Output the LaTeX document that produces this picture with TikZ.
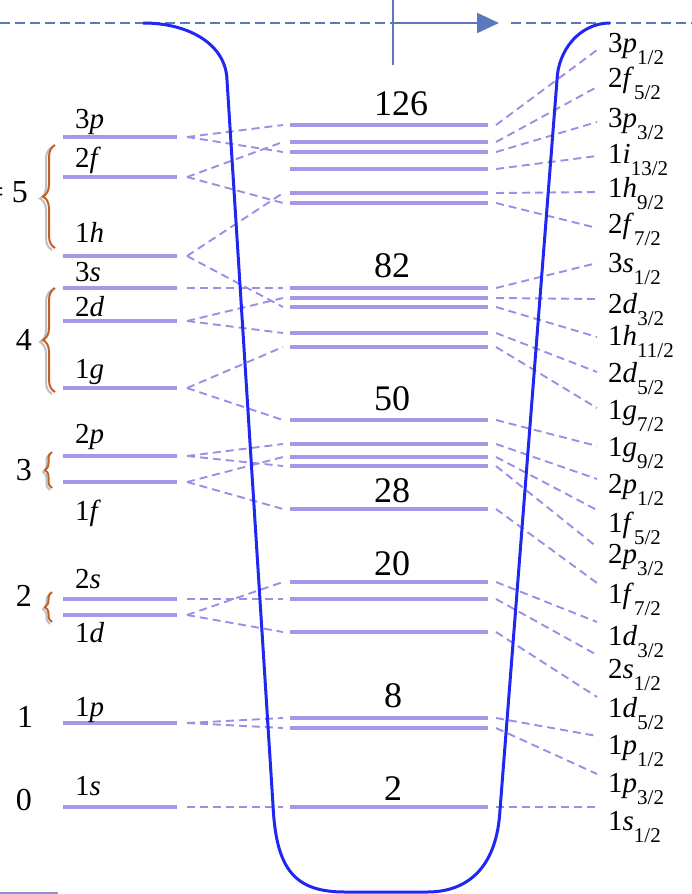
\documentclass[tikz,border=0pt]{standalone}
\usepackage{fontspec}
\setmainfont{Liberation Serif}
\usetikzlibrary{arrows.meta,decorations.pathreplacing}
\definecolor{lev}{RGB}{170,150,232}
\definecolor{conc}{RGB}{160,140,228}
\definecolor{wallc}{RGB}{30,40,240}
\definecolor{axisc}{RGB}{90,120,190}
\definecolor{brc}{RGB}{192,96,40}
\tikzset{
  level/.style={draw=lev,line width=3.2pt},
  conn/.style={draw=conc,line width=1.9pt,dash pattern=on 8pt off 5pt},
  wall/.style={draw=wallc,line width=3pt},
  axisline/.style={draw=axisc,line width=2.2pt},
  rlab/.style={anchor=base west,inner sep=0pt,font=\fontsize{29}{30}\selectfont},
  llab/.style={anchor=base west,inner sep=0pt,font=\fontsize{29}{30}\selectfont},
  magic/.style={anchor=base,inner sep=0pt,font=\fontsize{36}{38}\selectfont},
  nlab/.style={anchor=base,inner sep=0pt,font=\fontsize{32}{34}\selectfont},
  bracestyle/.style={draw=brc,line width=2pt,decorate},
}
\begin{document}
\begin{tikzpicture}[x=1pt,y=-1pt]
\useasboundingbox (0,0) rectangle (692,894);
\clip (0,0) rectangle (692,894);
% top axis
\draw[axisline,dash pattern=on 10pt off 5pt] (0,23) -- (393,23);
\draw[axisline,dash pattern=on 10pt off 5pt] (511,23) -- (692,23);
\coordinate (ax0) at (393,23);
\coordinate (ax1) at (499,23);
\coordinate (vt) at (393,0);
\coordinate (vb) at (393,65);
\draw[axisline,-{Triangle[length=22pt,width=20pt]}] (ax0) -- (ax1);
\draw[axisline] (vt) -- (vb);
% bottom-left fragment
\draw[draw={rgb,255:red,140;green,145;blue,220},line width=3pt] (0,893) -- (58,893);
% middle levels, right connectors and labels
\foreach \n/\y/\e/\b/\o/\l/\s in {
3p1/125/50/52/3/p/1,
2f5/142/87/87/2/f/5,
3p3/152/122/127/3/p/3,
1i13/169/156/163/1/i/13,
1h9/193/192/197/1/h/9,
2f7/203/228/233/2/f/7,
3s1/288/263/272/3/s/1,
2d3/298/299/313/2/d/3,
1h11/307/337/345/1/h/11,
2d5/333/372/382/2/d/5,
1g7/347/408/419/1/g/7,
1g9/420/446/456/1/g/9,
2p1/444/479/493/2/p/1,
1f5/457/510/532/1/f/5,
2p3/466/547/563/2/p/3,
1f7/509/583/603/1/f/7,
1d3/582/622/645/1/d/3,
2s1/599/655/678/2/s/1,
1d5/632/697/717/1/d/5,
1p1/718/736/754/1/p/1,
1p3/728/774/792/1/p/3,
1s1/807/807/830/1/s/1}{
  \coordinate (a\n) at (290,\y);
  \coordinate (b\n) at (488,\y);
  \draw[level] (a\n) -- (b\n);
  \coordinate (m\n) at (283,\y);
  \coordinate (n\n) at (496,\y);
  \coordinate (r\n) at (597,\e);
  \draw[conn] (n\n) -- (r\n);
  \node[rlab] (t\n) at (608,\b) {\o\textit{\l}\raisebox{-12pt}{\fontsize{21}{21}\selectfont\s/2}};
}
% left levels
\foreach \n/\y/\b/\o/\l in {
3p/137/128/3/p,
2f/177/167/2/f,
1h/256/242/1/h,
3s/288/281/3/s,
2d/321/316/2/d,
1g/388/378/1/g,
2p/456/443/2/p,
1f/482/520/1/f,
2s/599/588/2/s,
1d/615/642/1/d,
1p/723/716/1/p,
1s/807/795/1/s}{
  \coordinate (c\n) at (63,\y);
  \coordinate (d\n) at (177,\y);
  \draw[level] (c\n) -- (d\n);
  \coordinate (l\n) at (187,\y);
  \node[llab] (u\n) at (75,\b) {\o\textit{\l}};
}
% left connectors
\foreach \a/\c in {3p/3p1,3p/3p3,2f/2f5,2f/2f7,1h/1h9,1h/1h11,3s/3s1,2d/2d3,2d/2d5,
  1g/1g7,1g/1g9,2p/2p1,2p/2p3,1f/1f5,1f/1f7,2s/2s1,1d/1d3,1d/1d5,1p/1p1,1p/1p3,1s/1s1}{
  \draw[conn] (l\a) -- (m\c);
}
% magic numbers
\node[magic] (g126) at (401,115) {126};
\node[magic] (g82) at (392,277) {82};
\node[magic] (g50) at (392,410) {50};
\node[magic] (g28) at (392,502) {28};
\node[magic] (g20) at (392,575) {20};
\node[magic] (g8) at (393,707) {8};
\node[magic] (g2) at (393,800) {2};
% N labels
\node[nlab,anchor=base east] (Neq) at (4,202) {=};
\node[nlab] (N5) at (20,202) {5};
\node[nlab] (N4) at (24,350) {4};
\node[nlab] (N3) at (24,480) {3};
\node[nlab] (N2) at (24,606) {2};
\node[nlab] (N1) at (25,727) {1};
\node[nlab] (N0) at (24,810) {0};
% braces
\draw[bracestyle,draw=black!25,decoration={brace,amplitude=12pt}] (52,250) -- (52,147);
\draw[bracestyle,decoration={brace,amplitude=12pt}] (55,248) -- (55,145);
\draw[bracestyle,draw=black!25,decoration={brace,amplitude=12pt}] (52,394) -- (52,290);
\draw[bracestyle,decoration={brace,amplitude=12pt}] (55,392) -- (55,288);
\draw[bracestyle,draw=black!25,decoration={brace,amplitude=7pt}] (50,490) -- (50,454);
\draw[bracestyle,decoration={brace,amplitude=7pt}] (52,488) -- (52,452);
\draw[bracestyle,draw=black!25,decoration={brace,amplitude=7pt}] (50,624) -- (50,594);
\draw[bracestyle,decoration={brace,amplitude=7pt}] (52,622) -- (52,592);
% potential wall
\draw[wall] (143,23) .. controls (190,23) and (226,45) .. (227,80)
  -- (273,805) .. controls (276,870) and (295,892) .. (345,892)
  -- (427,892) .. controls (470,892) and (497,865) .. (500,810)
  -- (557,80) .. controls (558,50) and (580,23) .. (610,23);
\end{tikzpicture}
\end{document}
